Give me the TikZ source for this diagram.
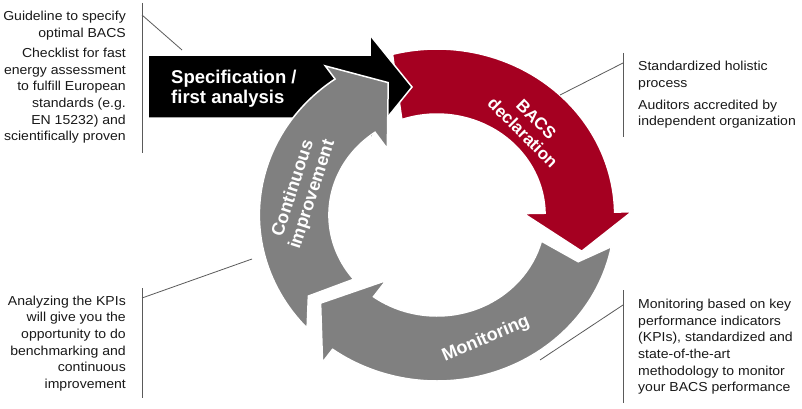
\documentclass[tikz,border=0pt]{standalone}
\usepackage{fontspec}
\setmainfont{Liberation Sans}
\newfontfamily\infofont[FakeStretch=1.08]{Liberation Sans}
\definecolor{bacsred}{RGB}{165,0,33}
\definecolor{ringgray}{RGB}{128,128,128}
\definecolor{linegray}{RGB}{90,90,90}
\begin{document}
\begin{tikzpicture}[x=1pt,y=1pt,
  ringshape/.style={draw=white, line width=1.5pt, line join=miter},
  infotext/.style={font=\infofont\fontsize{13}{16}\selectfont, text=black!90, inner sep=0pt},
  leader/.style={draw=linegray, line width=0.8pt},
  ringlabel/.style={font=\bfseries\fontsize{18}{20}\selectfont, text=white, align=center, inner sep=0pt},
  speclabel/.style={font=\bfseries\fontsize{18.5}{20}\selectfont, text=white, inner sep=0pt, anchor=base west},
]
\useasboundingbox (0,0) rectangle (802,408);
\fill[white] (0,0) rectangle (802,408);

% ring arrows (red and monitoring)
\begin{scope}[shift={(437,193)}, xscale=1.07]
  \fill[bacsred, ringshape] (104.5:166) arc[start angle=104.5, end angle=1, radius=166pt]
     -- (1:182) -- (-15:140) -- (1:81) -- (1:101)
     arc[start angle=1, end angle=109, radius=101pt] -- cycle;
  \fill[ringgray, ringshape] (-11:166) arc[start angle=-11, end angle=-126, radius=166pt]
     -- (-126:182) -- (-141:140) -- (-126:81) -- (-126:101)
     arc[start angle=-126, end angle=-15, radius=101pt] -- (-19.5:140) -- cycle;
\end{scope}

% black straight arrow
\fill[black, ringshape] (148,353) -- (370,353) -- (370,373) -- (412,321)
   -- (370,269) -- (370,290) -- (148,290) -- cycle;

% continuous improvement arrow
\begin{scope}[shift={(437,193)}, xscale=1.07]
  \fill[ringgray, ringshape] (223:166) arc[start angle=223, end angle=125, radius=166pt]
     -- (125:182) -- (109:140) -- (125:81) -- (125:101)
     arc[start angle=125, end angle=219.5, radius=101pt] -- (214:145) -- cycle;
\end{scope}

% labels on arrows
\node[speclabel] (spec1) at (171,325) {Specification /};
\node[speclabel] (spec2) at (171,305) {first analysis};
\node[ringlabel, font=\bfseries\fontsize{17}{19}\selectfont, rotate=-45] (bacs) at (529.5,282) {BACS\\declaration};
\node[ringlabel, rotate=72] (ci) at (303,216.5) {Continuous\\improvement};
\node[ringlabel, rotate=23] (mon) at (486,69) {Monitoring};

% leader lines
\coordinate (tlTop) at (142,405); \coordinate (tlBot) at (142,255);
\coordinate (tlA) at (142,393); \coordinate (tlB) at (182,358);
\coordinate (trTop) at (623,355); \coordinate (trBot) at (623,271);
\coordinate (trA) at (623,345); \coordinate (trB) at (560,313);
\coordinate (blTop) at (142,120); \coordinate (blBot) at (142,10);
\coordinate (blA) at (142,110); \coordinate (blB) at (252,149);
\coordinate (brTop) at (623,118); \coordinate (brBot) at (623,5);
\coordinate (brA) at (623,103); \coordinate (brB) at (540,48);
\draw[leader] (tlTop) -- (tlBot); \draw[leader] (tlA) -- (tlB);
\draw[leader] (trTop) -- (trBot); \draw[leader] (trA) -- (trB);
\draw[leader] (blTop) -- (blBot); \draw[leader] (blA) -- (blB);
\draw[leader] (brTop) -- (brBot); \draw[leader] (brA) -- (brB);

% top-left text
\node[infotext, anchor=base east] (tl1) at (126,387.3) {Guideline to specify};
\node[infotext, anchor=base east] (tl2) at (126,370.7) {optimal BACS};
\node[infotext, anchor=base east] (tl3) at (126,350.7) {Checklist for fast};
\node[infotext, anchor=base east] (tl4) at (126,334) {energy assessment};
\node[infotext, anchor=base east] (tl5) at (126,317.3) {to fulfill European};
\node[infotext, anchor=base east] (tl6) at (126,300.7) {standards (e.g.};
\node[infotext, anchor=base east] (tl7) at (126,284) {EN 15232) and};
\node[infotext, anchor=base east] (tl8) at (126,267.3) {scientifically proven};

% top-right text
\node[infotext, anchor=base west] (tr1) at (638,337.3) {Standardized holistic};
\node[infotext, anchor=base west] (tr2) at (638,320.7) {process};
\node[infotext, anchor=base west] (tr3) at (638,299) {Auditors accredited by};
\node[infotext, anchor=base west] (tr4) at (638,282.3) {independent organization};

% bottom-left text
\node[infotext, anchor=base east] (bl1) at (126,103) {Analyzing the KPIs};
\node[infotext, anchor=base east] (bl2) at (126,86.3) {will give you the};
\node[infotext, anchor=base east] (bl3) at (126,69.7) {opportunity to do};
\node[infotext, anchor=base east] (bl4) at (126,53) {benchmarking and};
\node[infotext, anchor=base east] (bl5) at (126,36.3) {continuous};
\node[infotext, anchor=base east] (bl6) at (126,19.7) {improvement};

% bottom-right text
\node[infotext, anchor=base west] (br1) at (638,99.7) {Monitoring based on key};
\node[infotext, anchor=base west] (br2) at (638,83) {performance indicators};
\node[infotext, anchor=base west] (br3) at (638,66.3) {(KPIs), standardized and};
\node[infotext, anchor=base west] (br4) at (638,49.7) {state-of-the-art};
\node[infotext, anchor=base west] (br5) at (638,33) {methodology to monitor};
\node[infotext, anchor=base west] (br6) at (638,16.3) {your BACS performance};
\end{tikzpicture}
\end{document}
